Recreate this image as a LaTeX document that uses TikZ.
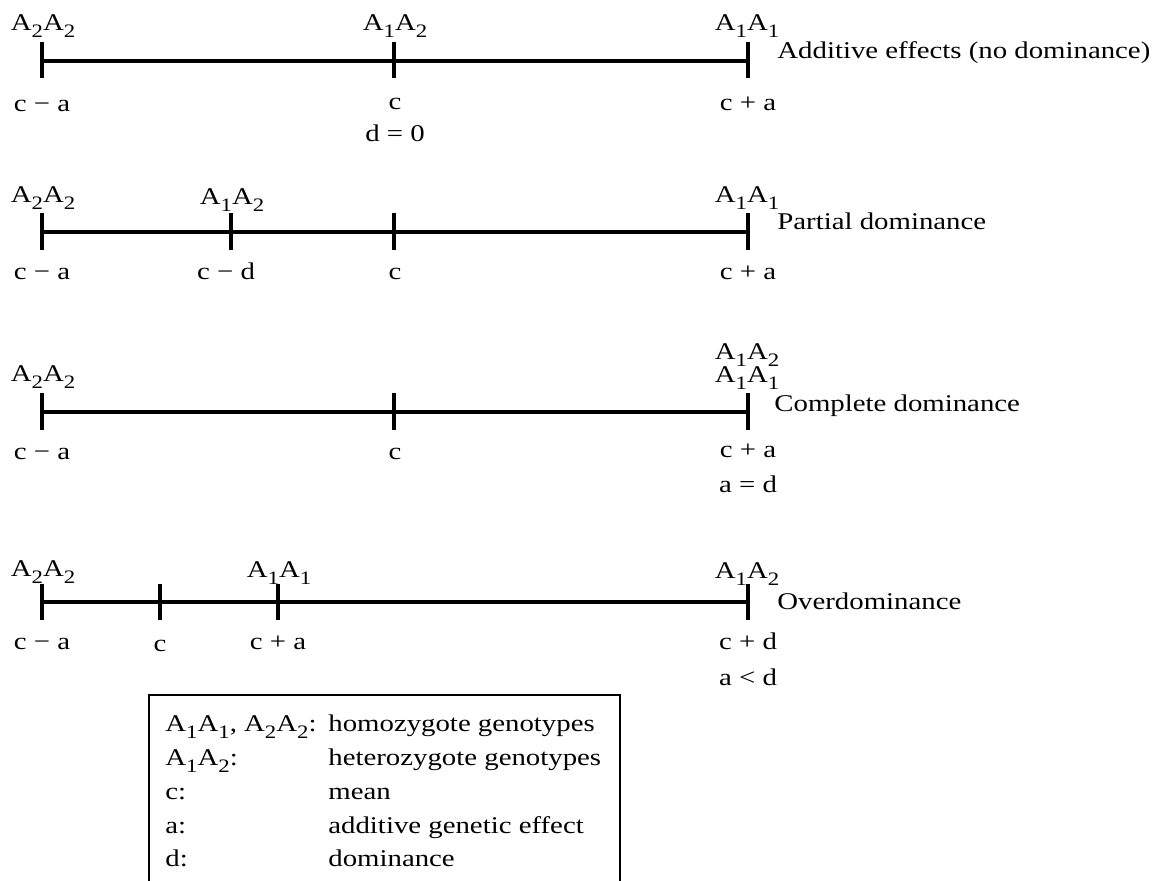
\documentclass[tikz,border=0pt]{standalone}
\usepackage{fontspec}
\setmainfont{Liberation Serif}[FakeStretch=1.2]
\usepackage{tikz}

\newcommand{\sub}[1]{\raisebox{-3.4pt}{\fontsize{9.5}{10}\selectfont #1}}
\newcommand{\geno}[2]{A\sub{#1}A\sub{#2}}

\tikzset{
    bar/.style={line width=2.2pt},
    lbl/.style={inner sep=0pt, anchor=base},
    caption/.style={inner sep=0pt, anchor=base west},
}

\begin{document}
\begin{tikzpicture}[x=0.5pt, y=-0.5pt, font=\fontsize{12}{14}\selectfont]
        \useasboundingbox (0,0) rectangle (1162,881);

        % Additive effects (topmost)
        \coordinate (add-l) at (42,61);
        \coordinate (add-r) at (748,61);
        \draw[bar] (add-l) -- (add-r);
        \foreach \x in {42,394,748} {
            \draw[bar] (\x,42) -- (\x,78);
        }
        \node[lbl] (add-a22) at (43,31) {\geno22};
        \node[lbl] (add-a12) at (395,31) {\geno12};
        \node[lbl] (add-a11) at (747,31) {\geno11};
        \node[lbl] (add-lo) at (42,112) {c − a};
        \node[lbl] (add-c) at (395,110) {c};
        \node[lbl] (add-d) at (395,142) {d = 0};
        \node[lbl] (add-hi) at (748,111) {c + a};
        \node[caption] (add-name) at (777,59) {Additive effects (no dominance)};

        % Partial dominance
        \coordinate (part-l) at (42,232);
        \coordinate (part-r) at (748,232);
        \draw[bar] (part-l) -- (part-r);
        \foreach \x in {42,231,394,748} {
            \draw[bar] (\x,213) -- (\x,250);
        }
        \node[lbl] (part-a22) at (43,203) {\geno22};
        \node[lbl] (part-a12) at (232,205) {\geno12};
        \node[lbl] (part-a11) at (747,203) {\geno11};
        \node[lbl] (part-lo) at (42,280) {c − a};
        \node[lbl] (part-het) at (226,280) {c − d};
        \node[lbl] (part-c) at (395,280) {c};
        \node[lbl] (part-hi) at (748,280) {c + a};
        \node[caption] (part-name) at (777,230) {Partial dominance};

        % Complete dominance
        \coordinate (comp-l) at (42,412);
        \coordinate (comp-r) at (748,412);
        \draw[bar] (comp-l) -- (comp-r);
        \foreach \x in {42,394,748} {
            \draw[bar] (\x,393) -- (\x,430);
        }
        \node[lbl] (comp-a22) at (43,382) {\geno22};
        \node[lbl] (comp-a12) at (747,360) {\geno12};
        \node[lbl] (comp-a11) at (747,383) {\geno11};
        \node[lbl] (comp-lo) at (42,460) {c − a};
        \node[lbl] (comp-c) at (395,460) {c};
        \node[lbl] (comp-hi) at (748,458) {c + a};
        \node[lbl] (comp-ad) at (748,493) {a = d};
        \node[caption] (comp-name) at (774,412) {Complete dominance};

        % Overdominance (bottom)
        \coordinate (over-l) at (42,602);
        \coordinate (over-r) at (748,602);
        \draw[bar] (over-l) -- (over-r);
        \foreach \x in {42,160,278,748} {
            \draw[bar] (\x,584) -- (\x,620);
        }
        \node[lbl] (over-a22) at (43,577) {\geno22};
        \node[lbl] (over-a11) at (279,578) {\geno11};
        \node[lbl] (over-a12) at (747,579) {\geno12};
        \node[lbl] (over-lo) at (42,650) {c − a};
        \node[lbl] (over-c) at (160,652) {c};
        \node[lbl] (over-hom) at (278,650) {c + a};
        \node[lbl] (over-hi) at (748,650) {c + d};
        \node[lbl] (over-ad) at (748,685) {a < d};
        \node[caption] (over-name) at (777,610) {Overdominance};

        % Legend box (runs off the bottom edge)
        \draw[line width=0.6pt] (149,900) |- (620,695) -- (620,900);
        \foreach \key/\txt [count=\i] in {{\geno11, \geno22:}/homozygote genotypes,
                {\geno12:}/heterozygote genotypes, c:/mean,
                a:/additive genetic effect, d:/dominance} {
            \node[caption] (leg-key-\i) at (165,698+33.75*\i) {\key};
            \node[caption] (leg-txt-\i) at (328,698+33.75*\i) {\txt};
        }

\end{tikzpicture}
\end{document}
